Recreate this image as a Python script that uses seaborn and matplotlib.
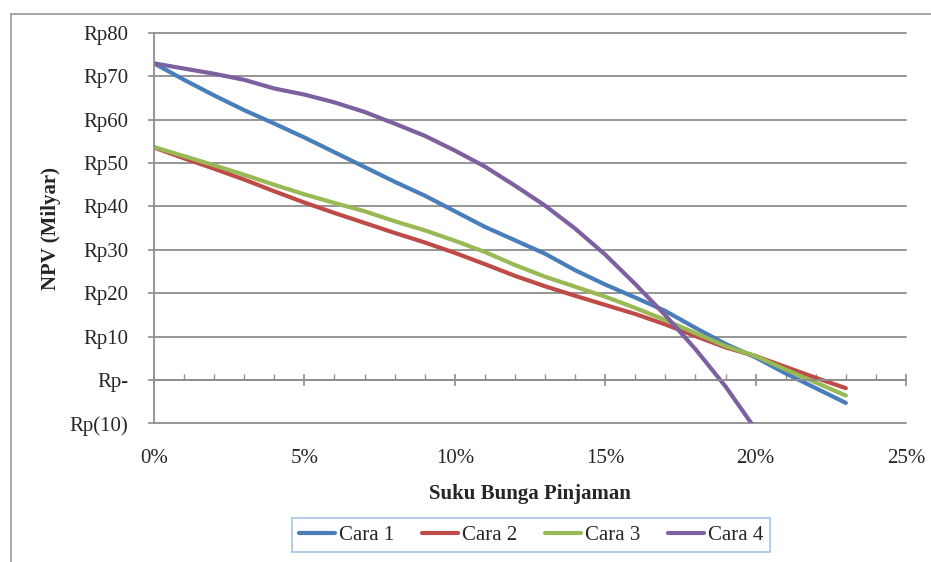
import numpy as np
import pandas as pd
import matplotlib
matplotlib.use("Agg")
import matplotlib.pyplot as plt
import seaborn as sns
from matplotlib.lines import Line2D
from matplotlib.ticker import FixedLocator, MultipleLocator, FixedFormatter

# ---- data ----
rates = list(range(0, 24))  # Suku bunga (%)
cara1 = [73.0, 69.2, 65.6, 62.2, 59.1, 55.9, 52.5, 49.1, 45.7, 42.5, 38.9, 35.3,
         32.2, 29.1, 25.3, 22.0, 19.0, 15.9, 12.0, 8.3, 5.2, 1.5, -1.9, -5.3]
cara2 = [53.6, 51.1, 48.7, 46.2, 43.5, 40.9, 38.5, 36.2, 33.9, 31.7, 29.3, 26.7,
         24.0, 21.6, 19.4, 17.3, 15.2, 12.8, 10.1, 7.5, 5.5, 3.0, 0.5, -1.9]
cara3 = [53.7, 51.6, 49.5, 47.3, 45.0, 42.8, 40.8, 38.9, 36.6, 34.5, 32.1, 29.5,
         26.5, 23.8, 21.5, 19.2, 16.6, 13.8, 10.8, 7.8, 5.5, 2.4, -0.6, -3.6]
rates4 = list(range(0, 21))
cara4 = [73.0, 71.8, 70.6, 69.2, 67.2, 65.8, 64.0, 61.8, 59.1, 56.3, 52.9, 49.2,
         44.8, 40.2, 34.9, 28.9, 22.1, 14.9, 7.1, -1.5, -11.4]

series_names = ["Cara 1", "Cara 2", "Cara 3", "Cara 4"]
colors = ["#4A7EBB", "#BE4B48", "#98B954", "#7D60A0"]

y_ticks = [-10, 0, 10, 20, 30, 40, 50, 60, 70, 80]
y_tick_labels = ["Rp(10)", "Rp-", "Rp10", "Rp20", "Rp30", "Rp40", "Rp50",
                 "Rp60", "Rp70", "Rp80"]
x_ticks = [0, 5, 10, 15, 20, 25]
x_tick_labels = ["0%", "5%", "10%", "15%", "20%", "25%"]

rows = []
for name, xs, ys in [("Cara 1", rates, cara1), ("Cara 2", rates, cara2),
                     ("Cara 3", rates, cara3), ("Cara 4", rates4, cara4)]:
    for x, y in zip(xs, ys):
        rows.append({"rate": x, "npv": y, "series": name})
df = pd.DataFrame(rows)

# ---- style ----
sns.set_style("white")
plt.rcParams["font.family"] = ["Liberation Serif", "DejaVu Serif"]
grid_col = "#8E8E8E"
FS = 15

fig = plt.figure(figsize=(9.31, 5.62), dpi=100)
W, H = 931, 562
x0, x1, ytop, ybot = 154, 906, 33, 423.3
ax = fig.add_axes([x0 / W, 1 - ybot / H, (x1 - x0) / W, (ybot - ytop) / H])

sns.lineplot(data=df, x="rate", y="npv", hue="series", hue_order=series_names,
             palette=colors, linewidth=3.0, ax=ax, legend=False,
             estimator=None, sort=False)

ax.set_xlim(0, 25)
ax.set_ylim(-10, 80)

# y axis
ax.yaxis.set_major_locator(FixedLocator(y_ticks))
ax.yaxis.set_major_formatter(FixedFormatter(y_tick_labels))
ax.yaxis.grid(True, color=grid_col, linewidth=1.3)
for gl in ax.get_ygridlines():
    gl.set_clip_on(False)
ax.xaxis.grid(False)
ax.set_axisbelow(True)
ax.tick_params(axis="y", direction="out", length=4.5, width=1.2, color=grid_col,
               labelsize=FS, pad=14, left=True)

# x axis at y=0
ax.spines["bottom"].set_position(("data", 0))
for s in ["top", "right"]:
    ax.spines[s].set_visible(False)
for s in ["bottom", "left"]:
    ax.spines[s].set_color(grid_col)
    ax.spines[s].set_linewidth(1.3)
ax.xaxis.set_major_locator(FixedLocator(x_ticks))
ax.xaxis.set_major_formatter(FixedFormatter(x_tick_labels))
ax.xaxis.set_minor_locator(MultipleLocator(1))
ax.tick_params(axis="x", which="major", direction="inout", length=9, width=1.2,
               color=grid_col, labelsize=FS, pad=45, bottom=True)
ax.tick_params(axis="x", which="minor", direction="in", length=4.5, width=1.0,
               color=grid_col, bottom=True)

ax.set_xlabel("Suku Bunga Pinjaman", fontsize=FS, fontweight="bold")
ax.set_ylabel("NPV (Milyar)", fontsize=FS, fontweight="bold")
ax.xaxis.set_label_coords(0.5, -(484 - ybot) / (ybot - ytop))
ax.yaxis.set_label_coords((61 - x0) / (x1 - x0), 0.5)

# legend
handles = [Line2D([], [], color=c, linewidth=3.0) for c in colors]
leg = fig.legend(handles, series_names, loc="center",
                 bbox_to_anchor=(531 / W, 1 - 535 / H), ncol=4, frameon=True,
                 fancybox=False, edgecolor="#8EB4E3", fontsize=FS,
                 handlelength=1.75, handletextpad=0.15, columnspacing=1.35,
                 borderpad=0.35)
leg.get_frame().set_linewidth(1.2)

# outer chart frame (top and left edges visible in reference)
fig.add_artist(Line2D([11 / W, 1.0], [1 - 14 / H, 1 - 14 / H],
                      transform=fig.transFigure, color="#A0A0A0", linewidth=1.3))
fig.add_artist(Line2D([11 / W, 11 / W], [1 - 14 / H, 0.0],
                      transform=fig.transFigure, color="#A0A0A0", linewidth=1.3))

fig.savefig("out.png", dpi=100)
